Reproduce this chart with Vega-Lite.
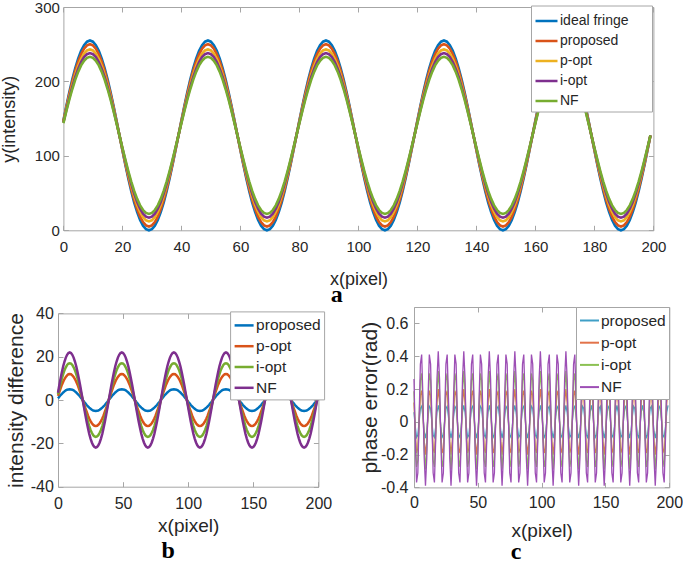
{
"$schema":"https://vega.github.io/schema/vega-lite/v6.json",
"background":"white",
"padding":{"left":0,"top":0,"right":0,"bottom":0},
"spacing":-2,
"config":{
 "font":"Liberation Sans",
 "view":{"stroke":null},
 "axis":{"grid":false,"domainColor":"#a6a6a6","tickColor":"#a6a6a6","tickSize":-5,"labelColor":"#262626","titleColor":"#262626","titleFontWeight":"normal","labelFlush":false,"labelOverlap":false,"labelFont":"Liberation Sans","titleFont":"Liberation Sans"},
 "legend":{"orient":"top-right","offset":0,"fillColor":"white","strokeColor":"#a6a6a6","padding":3,"symbolType":"stroke","labelFont":"Liberation Sans","labelColor":"#262626","labelOffset":1,"cornerRadius":0}
},
"datasets":{
"names":[{"k":"I","name":"ideal fringe"},{"k":"P","name":"proposed"},{"k":"Po","name":"p-opt"},{"k":"Io","name":"i-opt"},{"k":"N","name":"NF"}],
"a":[
{"x":0,"I":147.4,"P":146.7,"Po":145.6,"Io":144.8,"N":144},
{"x":1,"I":166.9,"P":165.4,"Po":163.2,"Io":161.6,"N":160.1},
{"x":2,"I":185.4,"P":183.1,"Po":179.9,"Io":177.7,"N":175.4},
{"x":3,"I":202.4,"P":199.5,"Po":195.4,"Io":192.5,"N":189.5},
{"x":4,"I":217.7,"P":214.1,"Po":209.2,"Io":205.6,"N":202.1},
{"x":5,"I":230.6,"P":226.6,"Po":220.9,"Io":216.9,"N":212.8},
{"x":6,"I":241.1,"P":236.6,"Po":230.4,"Io":226,"N":221.5},
{"x":7,"I":248.8,"P":244,"Po":237.4,"Io":232.6,"N":227.8},
{"x":8,"I":253.4,"P":248.5,"Po":241.6,"Io":236.6,"N":231.7},
{"x":9,"I":255,"P":250,"Po":243,"Io":238,"N":233},
{"x":10,"I":253.4,"P":248.5,"Po":241.6,"Io":236.6,"N":231.7},
{"x":11,"I":248.8,"P":244,"Po":237.4,"Io":232.6,"N":227.8},
{"x":12,"I":241.1,"P":236.6,"Po":230.4,"Io":226,"N":221.5},
{"x":13,"I":230.6,"P":226.6,"Po":220.9,"Io":216.9,"N":212.8},
{"x":14,"I":217.7,"P":214.1,"Po":209.2,"Io":205.6,"N":202.1},
{"x":15,"I":202.4,"P":199.5,"Po":195.4,"Io":192.5,"N":189.5},
{"x":16,"I":185.4,"P":183.1,"Po":179.9,"Io":177.7,"N":175.4},
{"x":17,"I":166.9,"P":165.4,"Po":163.2,"Io":161.6,"N":160.1},
{"x":18,"I":147.4,"P":146.7,"Po":145.6,"Io":144.8,"N":144},
{"x":19,"I":127.5,"P":127.5,"Po":127.5,"Io":127.5,"N":127.5},
{"x":20,"I":107.6,"P":108.3,"Po":109.4,"Io":110.2,"N":111},
{"x":21,"I":88.1,"P":89.6,"Po":91.8,"Io":93.4,"N":94.9},
{"x":22,"I":69.6,"P":71.9,"Po":75.1,"Io":77.3,"N":79.6},
{"x":23,"I":52.6,"P":55.5,"Po":59.6,"Io":62.5,"N":65.5},
{"x":24,"I":37.3,"P":40.9,"Po":45.8,"Io":49.4,"N":52.9},
{"x":25,"I":24.4,"P":28.4,"Po":34.1,"Io":38.1,"N":42.2},
{"x":26,"I":13.9,"P":18.4,"Po":24.6,"Io":29,"N":33.5},
{"x":27,"I":6.2,"P":11,"Po":17.6,"Io":22.4,"N":27.2},
{"x":28,"I":1.6,"P":6.5,"Po":13.4,"Io":18.4,"N":23.3},
{"x":29,"I":0,"P":5,"Po":12,"Io":17,"N":22},
{"x":30,"I":1.6,"P":6.5,"Po":13.4,"Io":18.4,"N":23.3},
{"x":31,"I":6.2,"P":11,"Po":17.6,"Io":22.4,"N":27.2},
{"x":32,"I":13.9,"P":18.4,"Po":24.6,"Io":29,"N":33.5},
{"x":33,"I":24.4,"P":28.4,"Po":34.1,"Io":38.1,"N":42.2},
{"x":34,"I":37.3,"P":40.9,"Po":45.8,"Io":49.4,"N":52.9},
{"x":35,"I":52.6,"P":55.5,"Po":59.6,"Io":62.5,"N":65.5},
{"x":36,"I":69.6,"P":71.9,"Po":75.1,"Io":77.3,"N":79.6},
{"x":37,"I":88.1,"P":89.6,"Po":91.8,"Io":93.4,"N":94.9},
{"x":38,"I":107.6,"P":108.3,"Po":109.4,"Io":110.2,"N":111},
{"x":39,"I":127.5,"P":127.5,"Po":127.5,"Io":127.5,"N":127.5},
{"x":40,"I":147.4,"P":146.7,"Po":145.6,"Io":144.8,"N":144},
{"x":41,"I":166.9,"P":165.4,"Po":163.2,"Io":161.6,"N":160.1},
{"x":42,"I":185.4,"P":183.1,"Po":179.9,"Io":177.7,"N":175.4},
{"x":43,"I":202.4,"P":199.5,"Po":195.4,"Io":192.5,"N":189.5},
{"x":44,"I":217.7,"P":214.1,"Po":209.2,"Io":205.6,"N":202.1},
{"x":45,"I":230.6,"P":226.6,"Po":220.9,"Io":216.9,"N":212.8},
{"x":46,"I":241.1,"P":236.6,"Po":230.4,"Io":226,"N":221.5},
{"x":47,"I":248.8,"P":244,"Po":237.4,"Io":232.6,"N":227.8},
{"x":48,"I":253.4,"P":248.5,"Po":241.6,"Io":236.6,"N":231.7},
{"x":49,"I":255,"P":250,"Po":243,"Io":238,"N":233},
{"x":50,"I":253.4,"P":248.5,"Po":241.6,"Io":236.6,"N":231.7},
{"x":51,"I":248.8,"P":244,"Po":237.4,"Io":232.6,"N":227.8},
{"x":52,"I":241.1,"P":236.6,"Po":230.4,"Io":226,"N":221.5},
{"x":53,"I":230.6,"P":226.6,"Po":220.9,"Io":216.9,"N":212.8},
{"x":54,"I":217.7,"P":214.1,"Po":209.2,"Io":205.6,"N":202.1},
{"x":55,"I":202.4,"P":199.5,"Po":195.4,"Io":192.5,"N":189.5},
{"x":56,"I":185.4,"P":183.1,"Po":179.9,"Io":177.7,"N":175.4},
{"x":57,"I":166.9,"P":165.4,"Po":163.2,"Io":161.6,"N":160.1},
{"x":58,"I":147.4,"P":146.7,"Po":145.6,"Io":144.8,"N":144},
{"x":59,"I":127.5,"P":127.5,"Po":127.5,"Io":127.5,"N":127.5},
{"x":60,"I":107.6,"P":108.3,"Po":109.4,"Io":110.2,"N":111},
{"x":61,"I":88.1,"P":89.6,"Po":91.8,"Io":93.4,"N":94.9},
{"x":62,"I":69.6,"P":71.9,"Po":75.1,"Io":77.3,"N":79.6},
{"x":63,"I":52.6,"P":55.5,"Po":59.6,"Io":62.5,"N":65.5},
{"x":64,"I":37.3,"P":40.9,"Po":45.8,"Io":49.4,"N":52.9},
{"x":65,"I":24.4,"P":28.4,"Po":34.1,"Io":38.1,"N":42.2},
{"x":66,"I":13.9,"P":18.4,"Po":24.6,"Io":29,"N":33.5},
{"x":67,"I":6.2,"P":11,"Po":17.6,"Io":22.4,"N":27.2},
{"x":68,"I":1.6,"P":6.5,"Po":13.4,"Io":18.4,"N":23.3},
{"x":69,"I":0,"P":5,"Po":12,"Io":17,"N":22},
{"x":70,"I":1.6,"P":6.5,"Po":13.4,"Io":18.4,"N":23.3},
{"x":71,"I":6.2,"P":11,"Po":17.6,"Io":22.4,"N":27.2},
{"x":72,"I":13.9,"P":18.4,"Po":24.6,"Io":29,"N":33.5},
{"x":73,"I":24.4,"P":28.4,"Po":34.1,"Io":38.1,"N":42.2},
{"x":74,"I":37.3,"P":40.9,"Po":45.8,"Io":49.4,"N":52.9},
{"x":75,"I":52.6,"P":55.5,"Po":59.6,"Io":62.5,"N":65.5},
{"x":76,"I":69.6,"P":71.9,"Po":75.1,"Io":77.3,"N":79.6},
{"x":77,"I":88.1,"P":89.6,"Po":91.8,"Io":93.4,"N":94.9},
{"x":78,"I":107.6,"P":108.3,"Po":109.4,"Io":110.2,"N":111},
{"x":79,"I":127.5,"P":127.5,"Po":127.5,"Io":127.5,"N":127.5},
{"x":80,"I":147.4,"P":146.7,"Po":145.6,"Io":144.8,"N":144},
{"x":81,"I":166.9,"P":165.4,"Po":163.2,"Io":161.6,"N":160.1},
{"x":82,"I":185.4,"P":183.1,"Po":179.9,"Io":177.7,"N":175.4},
{"x":83,"I":202.4,"P":199.5,"Po":195.4,"Io":192.5,"N":189.5},
{"x":84,"I":217.7,"P":214.1,"Po":209.2,"Io":205.6,"N":202.1},
{"x":85,"I":230.6,"P":226.6,"Po":220.9,"Io":216.9,"N":212.8},
{"x":86,"I":241.1,"P":236.6,"Po":230.4,"Io":226,"N":221.5},
{"x":87,"I":248.8,"P":244,"Po":237.4,"Io":232.6,"N":227.8},
{"x":88,"I":253.4,"P":248.5,"Po":241.6,"Io":236.6,"N":231.7},
{"x":89,"I":255,"P":250,"Po":243,"Io":238,"N":233},
{"x":90,"I":253.4,"P":248.5,"Po":241.6,"Io":236.6,"N":231.7},
{"x":91,"I":248.8,"P":244,"Po":237.4,"Io":232.6,"N":227.8},
{"x":92,"I":241.1,"P":236.6,"Po":230.4,"Io":226,"N":221.5},
{"x":93,"I":230.6,"P":226.6,"Po":220.9,"Io":216.9,"N":212.8},
{"x":94,"I":217.7,"P":214.1,"Po":209.2,"Io":205.6,"N":202.1},
{"x":95,"I":202.4,"P":199.5,"Po":195.4,"Io":192.5,"N":189.5},
{"x":96,"I":185.4,"P":183.1,"Po":179.9,"Io":177.7,"N":175.4},
{"x":97,"I":166.9,"P":165.4,"Po":163.2,"Io":161.6,"N":160.1},
{"x":98,"I":147.4,"P":146.7,"Po":145.6,"Io":144.8,"N":144},
{"x":99,"I":127.5,"P":127.5,"Po":127.5,"Io":127.5,"N":127.5},
{"x":100,"I":107.6,"P":108.3,"Po":109.4,"Io":110.2,"N":111},
{"x":101,"I":88.1,"P":89.6,"Po":91.8,"Io":93.4,"N":94.9},
{"x":102,"I":69.6,"P":71.9,"Po":75.1,"Io":77.3,"N":79.6},
{"x":103,"I":52.6,"P":55.5,"Po":59.6,"Io":62.5,"N":65.5},
{"x":104,"I":37.3,"P":40.9,"Po":45.8,"Io":49.4,"N":52.9},
{"x":105,"I":24.4,"P":28.4,"Po":34.1,"Io":38.1,"N":42.2},
{"x":106,"I":13.9,"P":18.4,"Po":24.6,"Io":29,"N":33.5},
{"x":107,"I":6.2,"P":11,"Po":17.6,"Io":22.4,"N":27.2},
{"x":108,"I":1.6,"P":6.5,"Po":13.4,"Io":18.4,"N":23.3},
{"x":109,"I":0,"P":5,"Po":12,"Io":17,"N":22},
{"x":110,"I":1.6,"P":6.5,"Po":13.4,"Io":18.4,"N":23.3},
{"x":111,"I":6.2,"P":11,"Po":17.6,"Io":22.4,"N":27.2},
{"x":112,"I":13.9,"P":18.4,"Po":24.6,"Io":29,"N":33.5},
{"x":113,"I":24.4,"P":28.4,"Po":34.1,"Io":38.1,"N":42.2},
{"x":114,"I":37.3,"P":40.9,"Po":45.8,"Io":49.4,"N":52.9},
{"x":115,"I":52.6,"P":55.5,"Po":59.6,"Io":62.5,"N":65.5},
{"x":116,"I":69.6,"P":71.9,"Po":75.1,"Io":77.3,"N":79.6},
{"x":117,"I":88.1,"P":89.6,"Po":91.8,"Io":93.4,"N":94.9},
{"x":118,"I":107.6,"P":108.3,"Po":109.4,"Io":110.2,"N":111},
{"x":119,"I":127.5,"P":127.5,"Po":127.5,"Io":127.5,"N":127.5},
{"x":120,"I":147.4,"P":146.7,"Po":145.6,"Io":144.8,"N":144},
{"x":121,"I":166.9,"P":165.4,"Po":163.2,"Io":161.6,"N":160.1},
{"x":122,"I":185.4,"P":183.1,"Po":179.9,"Io":177.7,"N":175.4},
{"x":123,"I":202.4,"P":199.5,"Po":195.4,"Io":192.5,"N":189.5},
{"x":124,"I":217.7,"P":214.1,"Po":209.2,"Io":205.6,"N":202.1},
{"x":125,"I":230.6,"P":226.6,"Po":220.9,"Io":216.9,"N":212.8},
{"x":126,"I":241.1,"P":236.6,"Po":230.4,"Io":226,"N":221.5},
{"x":127,"I":248.8,"P":244,"Po":237.4,"Io":232.6,"N":227.8},
{"x":128,"I":253.4,"P":248.5,"Po":241.6,"Io":236.6,"N":231.7},
{"x":129,"I":255,"P":250,"Po":243,"Io":238,"N":233},
{"x":130,"I":253.4,"P":248.5,"Po":241.6,"Io":236.6,"N":231.7},
{"x":131,"I":248.8,"P":244,"Po":237.4,"Io":232.6,"N":227.8},
{"x":132,"I":241.1,"P":236.6,"Po":230.4,"Io":226,"N":221.5},
{"x":133,"I":230.6,"P":226.6,"Po":220.9,"Io":216.9,"N":212.8},
{"x":134,"I":217.7,"P":214.1,"Po":209.2,"Io":205.6,"N":202.1},
{"x":135,"I":202.4,"P":199.5,"Po":195.4,"Io":192.5,"N":189.5},
{"x":136,"I":185.4,"P":183.1,"Po":179.9,"Io":177.7,"N":175.4},
{"x":137,"I":166.9,"P":165.4,"Po":163.2,"Io":161.6,"N":160.1},
{"x":138,"I":147.4,"P":146.7,"Po":145.6,"Io":144.8,"N":144},
{"x":139,"I":127.5,"P":127.5,"Po":127.5,"Io":127.5,"N":127.5},
{"x":140,"I":107.6,"P":108.3,"Po":109.4,"Io":110.2,"N":111},
{"x":141,"I":88.1,"P":89.6,"Po":91.8,"Io":93.4,"N":94.9},
{"x":142,"I":69.6,"P":71.9,"Po":75.1,"Io":77.3,"N":79.6},
{"x":143,"I":52.6,"P":55.5,"Po":59.6,"Io":62.5,"N":65.5},
{"x":144,"I":37.3,"P":40.9,"Po":45.8,"Io":49.4,"N":52.9},
{"x":145,"I":24.4,"P":28.4,"Po":34.1,"Io":38.1,"N":42.2},
{"x":146,"I":13.9,"P":18.4,"Po":24.6,"Io":29,"N":33.5},
{"x":147,"I":6.2,"P":11,"Po":17.6,"Io":22.4,"N":27.2},
{"x":148,"I":1.6,"P":6.5,"Po":13.4,"Io":18.4,"N":23.3},
{"x":149,"I":0,"P":5,"Po":12,"Io":17,"N":22},
{"x":150,"I":1.6,"P":6.5,"Po":13.4,"Io":18.4,"N":23.3},
{"x":151,"I":6.2,"P":11,"Po":17.6,"Io":22.4,"N":27.2},
{"x":152,"I":13.9,"P":18.4,"Po":24.6,"Io":29,"N":33.5},
{"x":153,"I":24.4,"P":28.4,"Po":34.1,"Io":38.1,"N":42.2},
{"x":154,"I":37.3,"P":40.9,"Po":45.8,"Io":49.4,"N":52.9},
{"x":155,"I":52.6,"P":55.5,"Po":59.6,"Io":62.5,"N":65.5},
{"x":156,"I":69.6,"P":71.9,"Po":75.1,"Io":77.3,"N":79.6},
{"x":157,"I":88.1,"P":89.6,"Po":91.8,"Io":93.4,"N":94.9},
{"x":158,"I":107.6,"P":108.3,"Po":109.4,"Io":110.2,"N":111},
{"x":159,"I":127.5,"P":127.5,"Po":127.5,"Io":127.5,"N":127.5},
{"x":160,"I":147.4,"P":146.7,"Po":145.6,"Io":144.8,"N":144},
{"x":161,"I":166.9,"P":165.4,"Po":163.2,"Io":161.6,"N":160.1},
{"x":162,"I":185.4,"P":183.1,"Po":179.9,"Io":177.7,"N":175.4},
{"x":163,"I":202.4,"P":199.5,"Po":195.4,"Io":192.5,"N":189.5},
{"x":164,"I":217.7,"P":214.1,"Po":209.2,"Io":205.6,"N":202.1},
{"x":165,"I":230.6,"P":226.6,"Po":220.9,"Io":216.9,"N":212.8},
{"x":166,"I":241.1,"P":236.6,"Po":230.4,"Io":226,"N":221.5},
{"x":167,"I":248.8,"P":244,"Po":237.4,"Io":232.6,"N":227.8},
{"x":168,"I":253.4,"P":248.5,"Po":241.6,"Io":236.6,"N":231.7},
{"x":169,"I":255,"P":250,"Po":243,"Io":238,"N":233},
{"x":170,"I":253.4,"P":248.5,"Po":241.6,"Io":236.6,"N":231.7},
{"x":171,"I":248.8,"P":244,"Po":237.4,"Io":232.6,"N":227.8},
{"x":172,"I":241.1,"P":236.6,"Po":230.4,"Io":226,"N":221.5},
{"x":173,"I":230.6,"P":226.6,"Po":220.9,"Io":216.9,"N":212.8},
{"x":174,"I":217.7,"P":214.1,"Po":209.2,"Io":205.6,"N":202.1},
{"x":175,"I":202.4,"P":199.5,"Po":195.4,"Io":192.5,"N":189.5},
{"x":176,"I":185.4,"P":183.1,"Po":179.9,"Io":177.7,"N":175.4},
{"x":177,"I":166.9,"P":165.4,"Po":163.2,"Io":161.6,"N":160.1},
{"x":178,"I":147.4,"P":146.7,"Po":145.6,"Io":144.8,"N":144},
{"x":179,"I":127.5,"P":127.5,"Po":127.5,"Io":127.5,"N":127.5},
{"x":180,"I":107.6,"P":108.3,"Po":109.4,"Io":110.2,"N":111},
{"x":181,"I":88.1,"P":89.6,"Po":91.8,"Io":93.4,"N":94.9},
{"x":182,"I":69.6,"P":71.9,"Po":75.1,"Io":77.3,"N":79.6},
{"x":183,"I":52.6,"P":55.5,"Po":59.6,"Io":62.5,"N":65.5},
{"x":184,"I":37.3,"P":40.9,"Po":45.8,"Io":49.4,"N":52.9},
{"x":185,"I":24.4,"P":28.4,"Po":34.1,"Io":38.1,"N":42.2},
{"x":186,"I":13.9,"P":18.4,"Po":24.6,"Io":29,"N":33.5},
{"x":187,"I":6.2,"P":11,"Po":17.6,"Io":22.4,"N":27.2},
{"x":188,"I":1.6,"P":6.5,"Po":13.4,"Io":18.4,"N":23.3},
{"x":189,"I":0,"P":5,"Po":12,"Io":17,"N":22},
{"x":190,"I":1.6,"P":6.5,"Po":13.4,"Io":18.4,"N":23.3},
{"x":191,"I":6.2,"P":11,"Po":17.6,"Io":22.4,"N":27.2},
{"x":192,"I":13.9,"P":18.4,"Po":24.6,"Io":29,"N":33.5},
{"x":193,"I":24.4,"P":28.4,"Po":34.1,"Io":38.1,"N":42.2},
{"x":194,"I":37.3,"P":40.9,"Po":45.8,"Io":49.4,"N":52.9},
{"x":195,"I":52.6,"P":55.5,"Po":59.6,"Io":62.5,"N":65.5},
{"x":196,"I":69.6,"P":71.9,"Po":75.1,"Io":77.3,"N":79.6},
{"x":197,"I":88.1,"P":89.6,"Po":91.8,"Io":93.4,"N":94.9},
{"x":198,"I":107.6,"P":108.3,"Po":109.4,"Io":110.2,"N":111},
{"x":199,"I":127.5,"P":127.5,"Po":127.5,"Io":127.5,"N":127.5}
],
"b":[
{"x":0,"P":0.8,"Po":1.9,"Io":2.7,"N":3.4},
{"x":1,"P":1.5,"Po":3.7,"Io":5.3,"N":6.8},
{"x":2,"P":2.3,"Po":5.4,"Io":7.7,"N":10},
{"x":3,"P":2.9,"Po":7.1,"Io":10,"N":12.9},
{"x":4,"P":3.5,"Po":8.5,"Io":12,"N":15.6},
{"x":5,"P":4,"Po":9.7,"Io":13.8,"N":17.8},
{"x":6,"P":4.5,"Po":10.7,"Io":15.1,"N":19.6},
{"x":7,"P":4.8,"Po":11.4,"Io":16.2,"N":20.9},
{"x":8,"P":4.9,"Po":11.9,"Io":16.8,"N":21.7},
{"x":9,"P":5,"Po":12,"Io":17,"N":22},
{"x":10,"P":4.9,"Po":11.9,"Io":16.8,"N":21.7},
{"x":11,"P":4.8,"Po":11.4,"Io":16.2,"N":20.9},
{"x":12,"P":4.5,"Po":10.7,"Io":15.1,"N":19.6},
{"x":13,"P":4,"Po":9.7,"Io":13.8,"N":17.8},
{"x":14,"P":3.5,"Po":8.5,"Io":12,"N":15.6},
{"x":15,"P":2.9,"Po":7.1,"Io":10,"N":12.9},
{"x":16,"P":2.3,"Po":5.4,"Io":7.7,"N":10},
{"x":17,"P":1.5,"Po":3.7,"Io":5.3,"N":6.8},
{"x":18,"P":0.8,"Po":1.9,"Io":2.7,"N":3.4},
{"x":19,"P":0,"Po":0,"Io":0,"N":0},
{"x":20,"P":-0.8,"Po":-1.9,"Io":-2.7,"N":-3.4},
{"x":21,"P":-1.5,"Po":-3.7,"Io":-5.3,"N":-6.8},
{"x":22,"P":-2.3,"Po":-5.4,"Io":-7.7,"N":-10},
{"x":23,"P":-2.9,"Po":-7.1,"Io":-10,"N":-12.9},
{"x":24,"P":-3.5,"Po":-8.5,"Io":-12,"N":-15.6},
{"x":25,"P":-4,"Po":-9.7,"Io":-13.8,"N":-17.8},
{"x":26,"P":-4.5,"Po":-10.7,"Io":-15.1,"N":-19.6},
{"x":27,"P":-4.8,"Po":-11.4,"Io":-16.2,"N":-20.9},
{"x":28,"P":-4.9,"Po":-11.9,"Io":-16.8,"N":-21.7},
{"x":29,"P":-5,"Po":-12,"Io":-17,"N":-22},
{"x":30,"P":-4.9,"Po":-11.9,"Io":-16.8,"N":-21.7},
{"x":31,"P":-4.8,"Po":-11.4,"Io":-16.2,"N":-20.9},
{"x":32,"P":-4.5,"Po":-10.7,"Io":-15.1,"N":-19.6},
{"x":33,"P":-4,"Po":-9.7,"Io":-13.8,"N":-17.8},
{"x":34,"P":-3.5,"Po":-8.5,"Io":-12,"N":-15.6},
{"x":35,"P":-2.9,"Po":-7.1,"Io":-10,"N":-12.9},
{"x":36,"P":-2.3,"Po":-5.4,"Io":-7.7,"N":-10},
{"x":37,"P":-1.5,"Po":-3.7,"Io":-5.3,"N":-6.8},
{"x":38,"P":-0.8,"Po":-1.9,"Io":-2.7,"N":-3.4},
{"x":39,"P":0,"Po":0,"Io":0,"N":0},
{"x":40,"P":0.8,"Po":1.9,"Io":2.7,"N":3.4},
{"x":41,"P":1.5,"Po":3.7,"Io":5.3,"N":6.8},
{"x":42,"P":2.3,"Po":5.4,"Io":7.7,"N":10},
{"x":43,"P":2.9,"Po":7.1,"Io":10,"N":12.9},
{"x":44,"P":3.5,"Po":8.5,"Io":12,"N":15.6},
{"x":45,"P":4,"Po":9.7,"Io":13.8,"N":17.8},
{"x":46,"P":4.5,"Po":10.7,"Io":15.1,"N":19.6},
{"x":47,"P":4.8,"Po":11.4,"Io":16.2,"N":20.9},
{"x":48,"P":4.9,"Po":11.9,"Io":16.8,"N":21.7},
{"x":49,"P":5,"Po":12,"Io":17,"N":22},
{"x":50,"P":4.9,"Po":11.9,"Io":16.8,"N":21.7},
{"x":51,"P":4.8,"Po":11.4,"Io":16.2,"N":20.9},
{"x":52,"P":4.5,"Po":10.7,"Io":15.1,"N":19.6},
{"x":53,"P":4,"Po":9.7,"Io":13.8,"N":17.8},
{"x":54,"P":3.5,"Po":8.5,"Io":12,"N":15.6},
{"x":55,"P":2.9,"Po":7.1,"Io":10,"N":12.9},
{"x":56,"P":2.3,"Po":5.4,"Io":7.7,"N":10},
{"x":57,"P":1.5,"Po":3.7,"Io":5.3,"N":6.8},
{"x":58,"P":0.8,"Po":1.9,"Io":2.7,"N":3.4},
{"x":59,"P":0,"Po":0,"Io":0,"N":0},
{"x":60,"P":-0.8,"Po":-1.9,"Io":-2.7,"N":-3.4},
{"x":61,"P":-1.5,"Po":-3.7,"Io":-5.3,"N":-6.8},
{"x":62,"P":-2.3,"Po":-5.4,"Io":-7.7,"N":-10},
{"x":63,"P":-2.9,"Po":-7.1,"Io":-10,"N":-12.9},
{"x":64,"P":-3.5,"Po":-8.5,"Io":-12,"N":-15.6},
{"x":65,"P":-4,"Po":-9.7,"Io":-13.8,"N":-17.8},
{"x":66,"P":-4.5,"Po":-10.7,"Io":-15.1,"N":-19.6},
{"x":67,"P":-4.8,"Po":-11.4,"Io":-16.2,"N":-20.9},
{"x":68,"P":-4.9,"Po":-11.9,"Io":-16.8,"N":-21.7},
{"x":69,"P":-5,"Po":-12,"Io":-17,"N":-22},
{"x":70,"P":-4.9,"Po":-11.9,"Io":-16.8,"N":-21.7},
{"x":71,"P":-4.8,"Po":-11.4,"Io":-16.2,"N":-20.9},
{"x":72,"P":-4.5,"Po":-10.7,"Io":-15.1,"N":-19.6},
{"x":73,"P":-4,"Po":-9.7,"Io":-13.8,"N":-17.8},
{"x":74,"P":-3.5,"Po":-8.5,"Io":-12,"N":-15.6},
{"x":75,"P":-2.9,"Po":-7.1,"Io":-10,"N":-12.9},
{"x":76,"P":-2.3,"Po":-5.4,"Io":-7.7,"N":-10},
{"x":77,"P":-1.5,"Po":-3.7,"Io":-5.3,"N":-6.8},
{"x":78,"P":-0.8,"Po":-1.9,"Io":-2.7,"N":-3.4},
{"x":79,"P":0,"Po":0,"Io":0,"N":0},
{"x":80,"P":0.8,"Po":1.9,"Io":2.7,"N":3.4},
{"x":81,"P":1.5,"Po":3.7,"Io":5.3,"N":6.8},
{"x":82,"P":2.3,"Po":5.4,"Io":7.7,"N":10},
{"x":83,"P":2.9,"Po":7.1,"Io":10,"N":12.9},
{"x":84,"P":3.5,"Po":8.5,"Io":12,"N":15.6},
{"x":85,"P":4,"Po":9.7,"Io":13.8,"N":17.8},
{"x":86,"P":4.5,"Po":10.7,"Io":15.1,"N":19.6},
{"x":87,"P":4.8,"Po":11.4,"Io":16.2,"N":20.9},
{"x":88,"P":4.9,"Po":11.9,"Io":16.8,"N":21.7},
{"x":89,"P":5,"Po":12,"Io":17,"N":22},
{"x":90,"P":4.9,"Po":11.9,"Io":16.8,"N":21.7},
{"x":91,"P":4.8,"Po":11.4,"Io":16.2,"N":20.9},
{"x":92,"P":4.5,"Po":10.7,"Io":15.1,"N":19.6},
{"x":93,"P":4,"Po":9.7,"Io":13.8,"N":17.8},
{"x":94,"P":3.5,"Po":8.5,"Io":12,"N":15.6},
{"x":95,"P":2.9,"Po":7.1,"Io":10,"N":12.9},
{"x":96,"P":2.3,"Po":5.4,"Io":7.7,"N":10},
{"x":97,"P":1.5,"Po":3.7,"Io":5.3,"N":6.8},
{"x":98,"P":0.8,"Po":1.9,"Io":2.7,"N":3.4},
{"x":99,"P":0,"Po":0,"Io":0,"N":0},
{"x":100,"P":-0.8,"Po":-1.9,"Io":-2.7,"N":-3.4},
{"x":101,"P":-1.5,"Po":-3.7,"Io":-5.3,"N":-6.8},
{"x":102,"P":-2.3,"Po":-5.4,"Io":-7.7,"N":-10},
{"x":103,"P":-2.9,"Po":-7.1,"Io":-10,"N":-12.9},
{"x":104,"P":-3.5,"Po":-8.5,"Io":-12,"N":-15.6},
{"x":105,"P":-4,"Po":-9.7,"Io":-13.8,"N":-17.8},
{"x":106,"P":-4.5,"Po":-10.7,"Io":-15.1,"N":-19.6},
{"x":107,"P":-4.8,"Po":-11.4,"Io":-16.2,"N":-20.9},
{"x":108,"P":-4.9,"Po":-11.9,"Io":-16.8,"N":-21.7},
{"x":109,"P":-5,"Po":-12,"Io":-17,"N":-22},
{"x":110,"P":-4.9,"Po":-11.9,"Io":-16.8,"N":-21.7},
{"x":111,"P":-4.8,"Po":-11.4,"Io":-16.2,"N":-20.9},
{"x":112,"P":-4.5,"Po":-10.7,"Io":-15.1,"N":-19.6},
{"x":113,"P":-4,"Po":-9.7,"Io":-13.8,"N":-17.8},
{"x":114,"P":-3.5,"Po":-8.5,"Io":-12,"N":-15.6},
{"x":115,"P":-2.9,"Po":-7.1,"Io":-10,"N":-12.9},
{"x":116,"P":-2.3,"Po":-5.4,"Io":-7.7,"N":-10},
{"x":117,"P":-1.5,"Po":-3.7,"Io":-5.3,"N":-6.8},
{"x":118,"P":-0.8,"Po":-1.9,"Io":-2.7,"N":-3.4},
{"x":119,"P":0,"Po":0,"Io":0,"N":0},
{"x":120,"P":0.8,"Po":1.9,"Io":2.7,"N":3.4},
{"x":121,"P":1.5,"Po":3.7,"Io":5.3,"N":6.8},
{"x":122,"P":2.3,"Po":5.4,"Io":7.7,"N":10},
{"x":123,"P":2.9,"Po":7.1,"Io":10,"N":12.9},
{"x":124,"P":3.5,"Po":8.5,"Io":12,"N":15.6},
{"x":125,"P":4,"Po":9.7,"Io":13.8,"N":17.8},
{"x":126,"P":4.5,"Po":10.7,"Io":15.1,"N":19.6},
{"x":127,"P":4.8,"Po":11.4,"Io":16.2,"N":20.9},
{"x":128,"P":4.9,"Po":11.9,"Io":16.8,"N":21.7},
{"x":129,"P":5,"Po":12,"Io":17,"N":22},
{"x":130,"P":4.9,"Po":11.9,"Io":16.8,"N":21.7},
{"x":131,"P":4.8,"Po":11.4,"Io":16.2,"N":20.9},
{"x":132,"P":4.5,"Po":10.7,"Io":15.1,"N":19.6},
{"x":133,"P":4,"Po":9.7,"Io":13.8,"N":17.8},
{"x":134,"P":3.5,"Po":8.5,"Io":12,"N":15.6},
{"x":135,"P":2.9,"Po":7.1,"Io":10,"N":12.9},
{"x":136,"P":2.3,"Po":5.4,"Io":7.7,"N":10},
{"x":137,"P":1.5,"Po":3.7,"Io":5.3,"N":6.8},
{"x":138,"P":0.8,"Po":1.9,"Io":2.7,"N":3.4},
{"x":139,"P":0,"Po":0,"Io":0,"N":0},
{"x":140,"P":-0.8,"Po":-1.9,"Io":-2.7,"N":-3.4},
{"x":141,"P":-1.5,"Po":-3.7,"Io":-5.3,"N":-6.8},
{"x":142,"P":-2.3,"Po":-5.4,"Io":-7.7,"N":-10},
{"x":143,"P":-2.9,"Po":-7.1,"Io":-10,"N":-12.9},
{"x":144,"P":-3.5,"Po":-8.5,"Io":-12,"N":-15.6},
{"x":145,"P":-4,"Po":-9.7,"Io":-13.8,"N":-17.8},
{"x":146,"P":-4.5,"Po":-10.7,"Io":-15.1,"N":-19.6},
{"x":147,"P":-4.8,"Po":-11.4,"Io":-16.2,"N":-20.9},
{"x":148,"P":-4.9,"Po":-11.9,"Io":-16.8,"N":-21.7},
{"x":149,"P":-5,"Po":-12,"Io":-17,"N":-22},
{"x":150,"P":-4.9,"Po":-11.9,"Io":-16.8,"N":-21.7},
{"x":151,"P":-4.8,"Po":-11.4,"Io":-16.2,"N":-20.9},
{"x":152,"P":-4.5,"Po":-10.7,"Io":-15.1,"N":-19.6},
{"x":153,"P":-4,"Po":-9.7,"Io":-13.8,"N":-17.8},
{"x":154,"P":-3.5,"Po":-8.5,"Io":-12,"N":-15.6},
{"x":155,"P":-2.9,"Po":-7.1,"Io":-10,"N":-12.9},
{"x":156,"P":-2.3,"Po":-5.4,"Io":-7.7,"N":-10},
{"x":157,"P":-1.5,"Po":-3.7,"Io":-5.3,"N":-6.8},
{"x":158,"P":-0.8,"Po":-1.9,"Io":-2.7,"N":-3.4},
{"x":159,"P":0,"Po":0,"Io":0,"N":0},
{"x":160,"P":0.8,"Po":1.9,"Io":2.7,"N":3.4},
{"x":161,"P":1.5,"Po":3.7,"Io":5.3,"N":6.8},
{"x":162,"P":2.3,"Po":5.4,"Io":7.7,"N":10},
{"x":163,"P":2.9,"Po":7.1,"Io":10,"N":12.9},
{"x":164,"P":3.5,"Po":8.5,"Io":12,"N":15.6},
{"x":165,"P":4,"Po":9.7,"Io":13.8,"N":17.8},
{"x":166,"P":4.5,"Po":10.7,"Io":15.1,"N":19.6},
{"x":167,"P":4.8,"Po":11.4,"Io":16.2,"N":20.9},
{"x":168,"P":4.9,"Po":11.9,"Io":16.8,"N":21.7},
{"x":169,"P":5,"Po":12,"Io":17,"N":22},
{"x":170,"P":4.9,"Po":11.9,"Io":16.8,"N":21.7},
{"x":171,"P":4.8,"Po":11.4,"Io":16.2,"N":20.9},
{"x":172,"P":4.5,"Po":10.7,"Io":15.1,"N":19.6},
{"x":173,"P":4,"Po":9.7,"Io":13.8,"N":17.8},
{"x":174,"P":3.5,"Po":8.5,"Io":12,"N":15.6},
{"x":175,"P":2.9,"Po":7.1,"Io":10,"N":12.9},
{"x":176,"P":2.3,"Po":5.4,"Io":7.7,"N":10},
{"x":177,"P":1.5,"Po":3.7,"Io":5.3,"N":6.8},
{"x":178,"P":0.8,"Po":1.9,"Io":2.7,"N":3.4},
{"x":179,"P":0,"Po":0,"Io":0,"N":0},
{"x":180,"P":-0.8,"Po":-1.9,"Io":-2.7,"N":-3.4},
{"x":181,"P":-1.5,"Po":-3.7,"Io":-5.3,"N":-6.8},
{"x":182,"P":-2.3,"Po":-5.4,"Io":-7.7,"N":-10},
{"x":183,"P":-2.9,"Po":-7.1,"Io":-10,"N":-12.9},
{"x":184,"P":-3.5,"Po":-8.5,"Io":-12,"N":-15.6},
{"x":185,"P":-4,"Po":-9.7,"Io":-13.8,"N":-17.8},
{"x":186,"P":-4.5,"Po":-10.7,"Io":-15.1,"N":-19.6},
{"x":187,"P":-4.8,"Po":-11.4,"Io":-16.2,"N":-20.9},
{"x":188,"P":-4.9,"Po":-11.9,"Io":-16.8,"N":-21.7},
{"x":189,"P":-5,"Po":-12,"Io":-17,"N":-22},
{"x":190,"P":-4.9,"Po":-11.9,"Io":-16.8,"N":-21.7},
{"x":191,"P":-4.8,"Po":-11.4,"Io":-16.2,"N":-20.9},
{"x":192,"P":-4.5,"Po":-10.7,"Io":-15.1,"N":-19.6},
{"x":193,"P":-4,"Po":-9.7,"Io":-13.8,"N":-17.8},
{"x":194,"P":-3.5,"Po":-8.5,"Io":-12,"N":-15.6},
{"x":195,"P":-2.9,"Po":-7.1,"Io":-10,"N":-12.9},
{"x":196,"P":-2.3,"Po":-5.4,"Io":-7.7,"N":-10},
{"x":197,"P":-1.5,"Po":-3.7,"Io":-5.3,"N":-6.8},
{"x":198,"P":-0.8,"Po":-1.9,"Io":-2.7,"N":-3.4},
{"x":199,"P":0,"Po":0,"Io":0,"N":0}
],
"c":[
{"x":0,"P":0.059,"Po":0.118,"Io":0.186,"N":0.261},
{"x":1,"P":-0.031,"Po":-0.062,"Io":-0.083,"N":-0.107},
{"x":2,"P":-0.095,"Po":-0.19,"Io":-0.275,"N":-0.37},
{"x":3,"P":-0.081,"Po":-0.162,"Io":-0.233,"N":-0.312},
{"x":4,"P":0,"Po":0,"Io":0.01,"N":0.02},
{"x":5,"P":0.081,"Po":0.162,"Io":0.253,"N":0.352},
{"x":6,"P":0.095,"Po":0.19,"Io":0.295,"N":0.41},
{"x":7,"P":0.031,"Po":0.062,"Io":0.103,"N":0.147},
{"x":8,"P":-0.059,"Po":-0.118,"Io":-0.166,"N":-0.221},
{"x":9,"P":-0.1,"Po":-0.2,"Io":-0.29,"N":-0.39},
{"x":10,"P":-0.059,"Po":-0.118,"Io":-0.166,"N":-0.221},
{"x":11,"P":0.031,"Po":0.062,"Io":0.103,"N":0.147},
{"x":12,"P":0.095,"Po":0.19,"Io":0.295,"N":0.41},
{"x":13,"P":0.081,"Po":0.162,"Io":0.253,"N":0.352},
{"x":14,"P":0,"Po":0,"Io":0.01,"N":0.02},
{"x":15,"P":-0.081,"Po":-0.162,"Io":-0.233,"N":-0.312},
{"x":16,"P":-0.095,"Po":-0.19,"Io":-0.275,"N":-0.37},
{"x":17,"P":-0.031,"Po":-0.062,"Io":-0.083,"N":-0.107},
{"x":18,"P":0.059,"Po":0.118,"Io":0.186,"N":0.261},
{"x":19,"P":0.1,"Po":0.2,"Io":0.31,"N":0.43},
{"x":20,"P":0.059,"Po":0.118,"Io":0.186,"N":0.261},
{"x":21,"P":-0.031,"Po":-0.062,"Io":-0.083,"N":-0.107},
{"x":22,"P":-0.095,"Po":-0.19,"Io":-0.275,"N":-0.37},
{"x":23,"P":-0.081,"Po":-0.162,"Io":-0.233,"N":-0.312},
{"x":24,"P":0,"Po":0,"Io":0.01,"N":0.02},
{"x":25,"P":0.081,"Po":0.162,"Io":0.253,"N":0.352},
{"x":26,"P":0.095,"Po":0.19,"Io":0.295,"N":0.41},
{"x":27,"P":0.031,"Po":0.062,"Io":0.103,"N":0.147},
{"x":28,"P":-0.059,"Po":-0.118,"Io":-0.166,"N":-0.221},
{"x":29,"P":-0.1,"Po":-0.2,"Io":-0.29,"N":-0.39},
{"x":30,"P":-0.059,"Po":-0.118,"Io":-0.166,"N":-0.221},
{"x":31,"P":0.031,"Po":0.062,"Io":0.103,"N":0.147},
{"x":32,"P":0.095,"Po":0.19,"Io":0.295,"N":0.41},
{"x":33,"P":0.081,"Po":0.162,"Io":0.253,"N":0.352},
{"x":34,"P":0,"Po":0,"Io":0.01,"N":0.02},
{"x":35,"P":-0.081,"Po":-0.162,"Io":-0.233,"N":-0.312},
{"x":36,"P":-0.095,"Po":-0.19,"Io":-0.275,"N":-0.37},
{"x":37,"P":-0.031,"Po":-0.062,"Io":-0.083,"N":-0.107},
{"x":38,"P":0.059,"Po":0.118,"Io":0.186,"N":0.261},
{"x":39,"P":0.1,"Po":0.2,"Io":0.31,"N":0.43},
{"x":40,"P":0.059,"Po":0.118,"Io":0.186,"N":0.261},
{"x":41,"P":-0.031,"Po":-0.062,"Io":-0.083,"N":-0.107},
{"x":42,"P":-0.095,"Po":-0.19,"Io":-0.275,"N":-0.37},
{"x":43,"P":-0.081,"Po":-0.162,"Io":-0.233,"N":-0.312},
{"x":44,"P":0,"Po":0,"Io":0.01,"N":0.02},
{"x":45,"P":0.081,"Po":0.162,"Io":0.253,"N":0.352},
{"x":46,"P":0.095,"Po":0.19,"Io":0.295,"N":0.41},
{"x":47,"P":0.031,"Po":0.062,"Io":0.103,"N":0.147},
{"x":48,"P":-0.059,"Po":-0.118,"Io":-0.166,"N":-0.221},
{"x":49,"P":-0.1,"Po":-0.2,"Io":-0.29,"N":-0.39},
{"x":50,"P":-0.059,"Po":-0.118,"Io":-0.166,"N":-0.221},
{"x":51,"P":0.031,"Po":0.062,"Io":0.103,"N":0.147},
{"x":52,"P":0.095,"Po":0.19,"Io":0.295,"N":0.41},
{"x":53,"P":0.081,"Po":0.162,"Io":0.253,"N":0.352},
{"x":54,"P":0,"Po":0,"Io":0.01,"N":0.02},
{"x":55,"P":-0.081,"Po":-0.162,"Io":-0.233,"N":-0.312},
{"x":56,"P":-0.095,"Po":-0.19,"Io":-0.275,"N":-0.37},
{"x":57,"P":-0.031,"Po":-0.062,"Io":-0.083,"N":-0.107},
{"x":58,"P":0.059,"Po":0.118,"Io":0.186,"N":0.261},
{"x":59,"P":0.1,"Po":0.2,"Io":0.31,"N":0.43},
{"x":60,"P":0.059,"Po":0.118,"Io":0.186,"N":0.261},
{"x":61,"P":-0.031,"Po":-0.062,"Io":-0.083,"N":-0.107},
{"x":62,"P":-0.095,"Po":-0.19,"Io":-0.275,"N":-0.37},
{"x":63,"P":-0.081,"Po":-0.162,"Io":-0.233,"N":-0.312},
{"x":64,"P":0,"Po":0,"Io":0.01,"N":0.02},
{"x":65,"P":0.081,"Po":0.162,"Io":0.253,"N":0.352},
{"x":66,"P":0.095,"Po":0.19,"Io":0.295,"N":0.41},
{"x":67,"P":0.031,"Po":0.062,"Io":0.103,"N":0.147},
{"x":68,"P":-0.059,"Po":-0.118,"Io":-0.166,"N":-0.221},
{"x":69,"P":-0.1,"Po":-0.2,"Io":-0.29,"N":-0.39},
{"x":70,"P":-0.059,"Po":-0.118,"Io":-0.166,"N":-0.221},
{"x":71,"P":0.031,"Po":0.062,"Io":0.103,"N":0.147},
{"x":72,"P":0.095,"Po":0.19,"Io":0.295,"N":0.41},
{"x":73,"P":0.081,"Po":0.162,"Io":0.253,"N":0.352},
{"x":74,"P":0,"Po":0,"Io":0.01,"N":0.02},
{"x":75,"P":-0.081,"Po":-0.162,"Io":-0.233,"N":-0.312},
{"x":76,"P":-0.095,"Po":-0.19,"Io":-0.275,"N":-0.37},
{"x":77,"P":-0.031,"Po":-0.062,"Io":-0.083,"N":-0.107},
{"x":78,"P":0.059,"Po":0.118,"Io":0.186,"N":0.261},
{"x":79,"P":0.1,"Po":0.2,"Io":0.31,"N":0.43},
{"x":80,"P":0.059,"Po":0.118,"Io":0.186,"N":0.261},
{"x":81,"P":-0.031,"Po":-0.062,"Io":-0.083,"N":-0.107},
{"x":82,"P":-0.095,"Po":-0.19,"Io":-0.275,"N":-0.37},
{"x":83,"P":-0.081,"Po":-0.162,"Io":-0.233,"N":-0.312},
{"x":84,"P":0,"Po":0,"Io":0.01,"N":0.02},
{"x":85,"P":0.081,"Po":0.162,"Io":0.253,"N":0.352},
{"x":86,"P":0.095,"Po":0.19,"Io":0.295,"N":0.41},
{"x":87,"P":0.031,"Po":0.062,"Io":0.103,"N":0.147},
{"x":88,"P":-0.059,"Po":-0.118,"Io":-0.166,"N":-0.221},
{"x":89,"P":-0.1,"Po":-0.2,"Io":-0.29,"N":-0.39},
{"x":90,"P":-0.059,"Po":-0.118,"Io":-0.166,"N":-0.221},
{"x":91,"P":0.031,"Po":0.062,"Io":0.103,"N":0.147},
{"x":92,"P":0.095,"Po":0.19,"Io":0.295,"N":0.41},
{"x":93,"P":0.081,"Po":0.162,"Io":0.253,"N":0.352},
{"x":94,"P":0,"Po":0,"Io":0.01,"N":0.02},
{"x":95,"P":-0.081,"Po":-0.162,"Io":-0.233,"N":-0.312},
{"x":96,"P":-0.095,"Po":-0.19,"Io":-0.275,"N":-0.37},
{"x":97,"P":-0.031,"Po":-0.062,"Io":-0.083,"N":-0.107},
{"x":98,"P":0.059,"Po":0.118,"Io":0.186,"N":0.261},
{"x":99,"P":0.1,"Po":0.2,"Io":0.31,"N":0.43},
{"x":100,"P":0.059,"Po":0.118,"Io":0.186,"N":0.261},
{"x":101,"P":-0.031,"Po":-0.062,"Io":-0.083,"N":-0.107},
{"x":102,"P":-0.095,"Po":-0.19,"Io":-0.275,"N":-0.37},
{"x":103,"P":-0.081,"Po":-0.162,"Io":-0.233,"N":-0.312},
{"x":104,"P":0,"Po":0,"Io":0.01,"N":0.02},
{"x":105,"P":0.081,"Po":0.162,"Io":0.253,"N":0.352},
{"x":106,"P":0.095,"Po":0.19,"Io":0.295,"N":0.41},
{"x":107,"P":0.031,"Po":0.062,"Io":0.103,"N":0.147},
{"x":108,"P":-0.059,"Po":-0.118,"Io":-0.166,"N":-0.221},
{"x":109,"P":-0.1,"Po":-0.2,"Io":-0.29,"N":-0.39},
{"x":110,"P":-0.059,"Po":-0.118,"Io":-0.166,"N":-0.221},
{"x":111,"P":0.031,"Po":0.062,"Io":0.103,"N":0.147},
{"x":112,"P":0.095,"Po":0.19,"Io":0.295,"N":0.41},
{"x":113,"P":0.081,"Po":0.162,"Io":0.253,"N":0.352},
{"x":114,"P":0,"Po":0,"Io":0.01,"N":0.02},
{"x":115,"P":-0.081,"Po":-0.162,"Io":-0.233,"N":-0.312},
{"x":116,"P":-0.095,"Po":-0.19,"Io":-0.275,"N":-0.37},
{"x":117,"P":-0.031,"Po":-0.062,"Io":-0.083,"N":-0.107},
{"x":118,"P":0.059,"Po":0.118,"Io":0.186,"N":0.261},
{"x":119,"P":0.1,"Po":0.2,"Io":0.31,"N":0.43},
{"x":120,"P":0.059,"Po":0.118,"Io":0.186,"N":0.261},
{"x":121,"P":-0.031,"Po":-0.062,"Io":-0.083,"N":-0.107},
{"x":122,"P":-0.095,"Po":-0.19,"Io":-0.275,"N":-0.37},
{"x":123,"P":-0.081,"Po":-0.162,"Io":-0.233,"N":-0.312},
{"x":124,"P":0,"Po":0,"Io":0.01,"N":0.02},
{"x":125,"P":0.081,"Po":0.162,"Io":0.253,"N":0.352},
{"x":126,"P":0.095,"Po":0.19,"Io":0.295,"N":0.41},
{"x":127,"P":0.031,"Po":0.062,"Io":0.103,"N":0.147},
{"x":128,"P":-0.059,"Po":-0.118,"Io":-0.166,"N":-0.221},
{"x":129,"P":-0.1,"Po":-0.2,"Io":-0.29,"N":-0.39},
{"x":130,"P":-0.059,"Po":-0.118,"Io":-0.166,"N":-0.221},
{"x":131,"P":0.031,"Po":0.062,"Io":0.103,"N":0.147},
{"x":132,"P":0.095,"Po":0.19,"Io":0.295,"N":0.41},
{"x":133,"P":0.081,"Po":0.162,"Io":0.253,"N":0.352},
{"x":134,"P":0,"Po":0,"Io":0.01,"N":0.02},
{"x":135,"P":-0.081,"Po":-0.162,"Io":-0.233,"N":-0.312},
{"x":136,"P":-0.095,"Po":-0.19,"Io":-0.275,"N":-0.37},
{"x":137,"P":-0.031,"Po":-0.062,"Io":-0.083,"N":-0.107},
{"x":138,"P":0.059,"Po":0.118,"Io":0.186,"N":0.261},
{"x":139,"P":0.1,"Po":0.2,"Io":0.31,"N":0.43},
{"x":140,"P":0.059,"Po":0.118,"Io":0.186,"N":0.261},
{"x":141,"P":-0.031,"Po":-0.062,"Io":-0.083,"N":-0.107},
{"x":142,"P":-0.095,"Po":-0.19,"Io":-0.275,"N":-0.37},
{"x":143,"P":-0.081,"Po":-0.162,"Io":-0.233,"N":-0.312},
{"x":144,"P":0,"Po":0,"Io":0.01,"N":0.02},
{"x":145,"P":0.081,"Po":0.162,"Io":0.253,"N":0.352},
{"x":146,"P":0.095,"Po":0.19,"Io":0.295,"N":0.41},
{"x":147,"P":0.031,"Po":0.062,"Io":0.103,"N":0.147},
{"x":148,"P":-0.059,"Po":-0.118,"Io":-0.166,"N":-0.221},
{"x":149,"P":-0.1,"Po":-0.2,"Io":-0.29,"N":-0.39},
{"x":150,"P":-0.059,"Po":-0.118,"Io":-0.166,"N":-0.221},
{"x":151,"P":0.031,"Po":0.062,"Io":0.103,"N":0.147},
{"x":152,"P":0.095,"Po":0.19,"Io":0.295,"N":0.41},
{"x":153,"P":0.081,"Po":0.162,"Io":0.253,"N":0.352},
{"x":154,"P":0,"Po":0,"Io":0.01,"N":0.02},
{"x":155,"P":-0.081,"Po":-0.162,"Io":-0.233,"N":-0.312},
{"x":156,"P":-0.095,"Po":-0.19,"Io":-0.275,"N":-0.37},
{"x":157,"P":-0.031,"Po":-0.062,"Io":-0.083,"N":-0.107},
{"x":158,"P":0.059,"Po":0.118,"Io":0.186,"N":0.261},
{"x":159,"P":0.1,"Po":0.2,"Io":0.31,"N":0.43},
{"x":160,"P":0.059,"Po":0.118,"Io":0.186,"N":0.261},
{"x":161,"P":-0.031,"Po":-0.062,"Io":-0.083,"N":-0.107},
{"x":162,"P":-0.095,"Po":-0.19,"Io":-0.275,"N":-0.37},
{"x":163,"P":-0.081,"Po":-0.162,"Io":-0.233,"N":-0.312},
{"x":164,"P":0,"Po":0,"Io":0.01,"N":0.02},
{"x":165,"P":0.081,"Po":0.162,"Io":0.253,"N":0.352},
{"x":166,"P":0.095,"Po":0.19,"Io":0.295,"N":0.41},
{"x":167,"P":0.031,"Po":0.062,"Io":0.103,"N":0.147},
{"x":168,"P":-0.059,"Po":-0.118,"Io":-0.166,"N":-0.221},
{"x":169,"P":-0.1,"Po":-0.2,"Io":-0.29,"N":-0.39},
{"x":170,"P":-0.059,"Po":-0.118,"Io":-0.166,"N":-0.221},
{"x":171,"P":0.031,"Po":0.062,"Io":0.103,"N":0.147},
{"x":172,"P":0.095,"Po":0.19,"Io":0.295,"N":0.41},
{"x":173,"P":0.081,"Po":0.162,"Io":0.253,"N":0.352},
{"x":174,"P":0,"Po":0,"Io":0.01,"N":0.02},
{"x":175,"P":-0.081,"Po":-0.162,"Io":-0.233,"N":-0.312},
{"x":176,"P":-0.095,"Po":-0.19,"Io":-0.275,"N":-0.37},
{"x":177,"P":-0.031,"Po":-0.062,"Io":-0.083,"N":-0.107},
{"x":178,"P":0.059,"Po":0.118,"Io":0.186,"N":0.261},
{"x":179,"P":0.1,"Po":0.2,"Io":0.31,"N":0.43},
{"x":180,"P":0.059,"Po":0.118,"Io":0.186,"N":0.261},
{"x":181,"P":-0.031,"Po":-0.062,"Io":-0.083,"N":-0.107},
{"x":182,"P":-0.095,"Po":-0.19,"Io":-0.275,"N":-0.37},
{"x":183,"P":-0.081,"Po":-0.162,"Io":-0.233,"N":-0.312},
{"x":184,"P":0,"Po":0,"Io":0.01,"N":0.02},
{"x":185,"P":0.081,"Po":0.162,"Io":0.253,"N":0.352},
{"x":186,"P":0.095,"Po":0.19,"Io":0.295,"N":0.41},
{"x":187,"P":0.031,"Po":0.062,"Io":0.103,"N":0.147},
{"x":188,"P":-0.059,"Po":-0.118,"Io":-0.166,"N":-0.221},
{"x":189,"P":-0.1,"Po":-0.2,"Io":-0.29,"N":-0.39},
{"x":190,"P":-0.059,"Po":-0.118,"Io":-0.166,"N":-0.221},
{"x":191,"P":0.031,"Po":0.062,"Io":0.103,"N":0.147},
{"x":192,"P":0.095,"Po":0.19,"Io":0.295,"N":0.41},
{"x":193,"P":0.081,"Po":0.162,"Io":0.253,"N":0.352},
{"x":194,"P":0,"Po":0,"Io":0.01,"N":0.02},
{"x":195,"P":-0.081,"Po":-0.162,"Io":-0.233,"N":-0.312},
{"x":196,"P":-0.095,"Po":-0.19,"Io":-0.275,"N":-0.37},
{"x":197,"P":-0.031,"Po":-0.062,"Io":-0.083,"N":-0.107},
{"x":198,"P":0.059,"Po":0.118,"Io":0.186,"N":0.261},
{"x":199,"P":0.1,"Po":0.2,"Io":0.31,"N":0.43}
]
},
"resolve":{"scale":{"x":"independent","y":"independent","color":"independent"},"legend":{"color":"independent"}},
"vconcat":[
{
 "width":595.4,"height":223.3,
 "data":{"name":"a"},
 "transform":[{"fold":["I","P","Po","Io","N"],"as":["k","y"]},{"lookup":"k","from":{"data":{"name":"names"},"key":"k","fields":["name"]}}],
 "resolve":{"axis":{"x":"independent","y":"independent"}},
 "layer":[
  {
   "mark":{"type":"line","strokeWidth":2.6},
   "encoding":{
    "x":{"field":"x","type":"quantitative","scale":{"domain":[0,200],"range":[5.4,595.4],"nice":false},"axis":{"orient":"bottom","values":[0,20,40,60,80,100,120,140,160,180,200],"title":"x(pixel)","labelFontSize":15,"titleFontSize":18,"labelPadding":14.5,"titlePadding":16}},
    "y":{"field":"y","type":"quantitative","scale":{"domain":[0,300],"nice":false},"axis":{"orient":"left","offset":-5.4,"values":[0,100,200,300],"title":"y(intensity)","labelFontSize":15,"titleFontSize":18,"labelPadding":9,"titlePadding":15.7}},
    "color":{"field":"name","type":"nominal","scale":{"domain":["ideal fringe","proposed","p-opt","i-opt","NF"],"range":["#0072BD","#D95319","#EDB120","#7E2F8E","#77AC30"]},"legend":{"title":null,"orient":"none","legendX":473,"legendY":-1.5,"labelFontSize":14,"symbolSize":484,"symbolStrokeWidth":2.5,"rowPadding":-1.5,"labelExpr":"datum.label == 'ideal fringe' ? 'ideal fringe\u2800\u2800' : datum.label"}}
   }
  },
  {
   "mark":{"type":"line","opacity":0},
   "encoding":{
    "x":{"field":"x","type":"quantitative","axis":{"orient":"top","values":[0,20,40,60,80,100,120,140,160,180,200],"labels":false,"title":null}},
    "y":{"field":"y","type":"quantitative","axis":{"orient":"right","values":[0,100,200,300],"labels":false,"title":null}}
   }
  }
 ],
 "title":{"text":"a","orient":"bottom","frame":"group","anchor":"middle","dx":-19,"baseline":"alphabetic","offset":13,"font":"Liberation Serif","fontSize":24,"fontWeight":"bold","color":"#000000"}
},
{
 "spacing":27,
 "resolve":{"scale":{"x":"independent","y":"independent","color":"independent"},"legend":{"color":"independent"}},
 "hconcat":[
 {
  "width":260.4,"height":179.7,
  "data":{"name":"b"},
  "transform":[{"fold":["P","Po","Io","N"],"as":["k","y"]},{"lookup":"k","from":{"data":{"name":"names"},"key":"k","fields":["name"]}}],
  "resolve":{"axis":{"x":"independent","y":"independent"}},
  "layer":[
   {
    "mark":{"type":"line","strokeWidth":2.5},
    "encoding":{
     "x":{"field":"x","type":"quantitative","scale":{"domain":[0,200],"nice":false},"axis":{"orient":"bottom","values":[0,50,100,150,200],"title":"x(pixel)","labelFontSize":16,"titleFontSize":19,"labelPadding":13.5,"titlePadding":5.5}},
     "y":{"field":"y","type":"quantitative","scale":{"domain":[-40,40],"range":[179.7,6.4],"nice":false},"axis":{"orient":"left","values":[-40,-20,0,20,40],"title":"intensity difference","labelFontSize":16,"titleFontSize":21,"labelPadding":9.6,"titlePadding":3.6,"labelExpr":"datum.value < 0 ? '-' + format(-datum.value, '~g') : format(datum.value, '~g')"}},
     "color":{"field":"name","type":"nominal","scale":{"domain":["proposed","p-opt","i-opt","NF"],"range":["#0072BD","#D95319","#77AC30","#7E2F8E"]},"legend":{"title":null,"orient":"none","legendX":172.1,"legendY":4.4,"labelFontSize":15.5,"symbolSize":361,"symbolStrokeWidth":2.5,"rowPadding":0.8}}
    }
   },
   {
    "mark":{"type":"line","opacity":0},
    "encoding":{
     "x":{"field":"x","type":"quantitative","axis":{"orient":"top","offset":-6.4,"values":[0,50,100,150,200],"labels":false,"title":null}},
     "y":{"field":"y","type":"quantitative","axis":{"orient":"right","values":[-40,-20,0,20,40],"labels":false,"title":null}}
    }
   }
  ],
  "title":{"text":"b","orient":"bottom","frame":"group","anchor":"middle","dx":-20,"baseline":"alphabetic","offset":22,"font":"Liberation Serif","fontSize":24,"fontWeight":"bold","color":"#000000"}
 },
 {
  "width":255.3,"height":180.4,
  "data":{"name":"c"},
  "transform":[{"fold":["P","Po","Io","N"],"as":["k","y"]},{"lookup":"k","from":{"data":{"name":"names"},"key":"k","fields":["name"]}}],
  "resolve":{"axis":{"x":"independent","y":"independent"}},
  "layer":[
   {
    "mark":{"type":"line","strokeWidth":1.3},
    "encoding":{
     "x":{"field":"x","type":"quantitative","scale":{"domain":[0,200],"nice":false},"axis":{"orient":"bottom","values":[0,50,100,150,200],"title":"x(pixel)","labelFontSize":16,"titleFontSize":19,"labelPadding":12.3,"titlePadding":10.3}},
     "y":{"field":"y","type":"quantitative","scale":{"domain":[-0.4,0.7],"nice":false},"axis":{"orient":"left","values":[-0.4,-0.2,0,0.2,0.4,0.6],"title":"phase error(rad)","labelFontSize":16,"titleFontSize":21,"labelPadding":11,"titlePadding":0,"labelExpr":"datum.value < 0 ? '-' + format(-datum.value, '~g') : format(datum.value, '~g')"}},
     "color":{"field":"name","type":"nominal","scale":{"domain":["proposed","p-opt","i-opt","NF"],"range":["#3f9fc6","#e2734a","#8cc153","#9d4fb5"]},"legend":{"title":null,"labelFontSize":15.5,"symbolSize":361,"symbolStrokeWidth":2,"rowPadding":3.2}}
    }
   },
   {
    "mark":{"type":"line","opacity":0},
    "encoding":{
     "x":{"field":"x","type":"quantitative","axis":{"orient":"top","values":[0,50,100,150,200],"labels":false,"title":null}},
     "y":{"field":"y","type":"quantitative","axis":{"orient":"right","values":[-0.4,-0.2,0,0.2,0.4,0.6],"labels":false,"title":null}}
    }
   }
  ],
  "title":{"text":"c","orient":"bottom","frame":"group","anchor":"middle","dx":-25.5,"baseline":"alphabetic","offset":19,"font":"Liberation Serif","fontSize":24,"fontWeight":"bold","color":"#000000"}
 }
 ]
}
]
}
